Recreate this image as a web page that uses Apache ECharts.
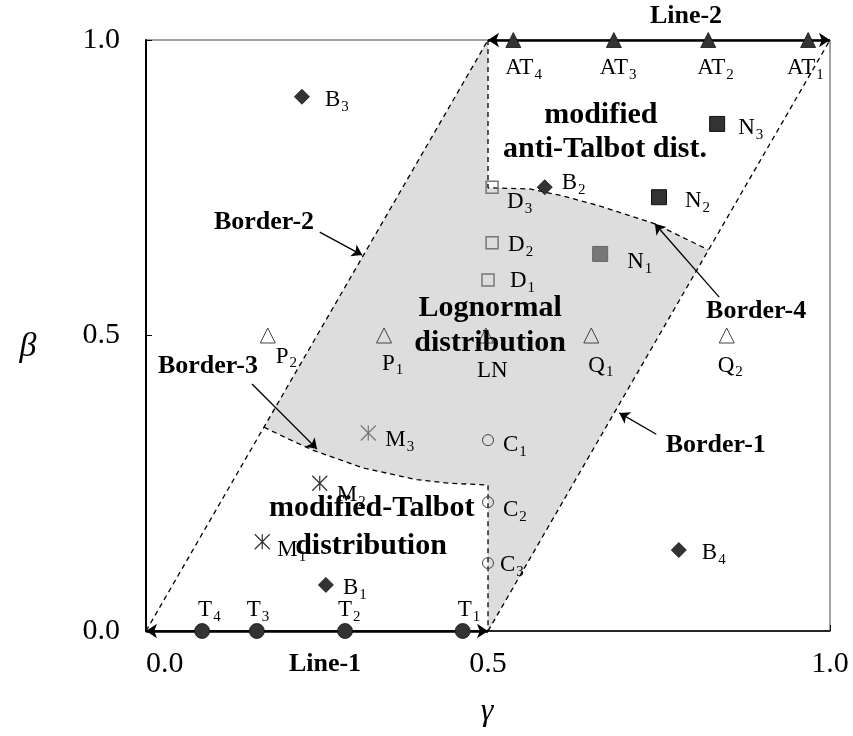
<!DOCTYPE html>
<html><head><meta charset="utf-8">
<script src="https://cdn.jsdelivr.net/npm/echarts@6/dist/echarts.min.js"></script>
<style>html,body{margin:0;padding:0;background:#fff}#c{width:853px;height:736px}</style>
</head><body><div id="c"></div>
<script>
// ---- data ----
const bNames = ['B1','B2','B3','B4'];
const bPoints = [[0.263,0.078],[0.583,0.751],[0.228,0.904],[0.779,0.137]];
const atNames = ['AT1','AT2','AT3','AT4'];
const atPoints = [[0.968,1],[0.822,1],[0.684,1],[0.537,1]];
const tNames = ['T1','T2','T3','T4'];
const tPoints = [[0.463,0],[0.291,0],[0.162,0],[0.082,0]];
const pqNames = ['P2','P1','LN','Q1','Q2'];
const pqPoints = [[0.178,0.5],[0.348,0.5],[0.497,0.5],[0.651,0.5],[0.849,0.5]];
const dNames = ['D1','D2','D3'];
const dPoints = [[0.5,0.594],[0.506,0.657],[0.506,0.751]];
const nDarkNames = ['N2','N3'];
const nDarkPoints = [[0.75,0.734],[0.835,0.858]];
const nGrayNames = ['N1'];
const nGrayPoints = [[0.664,0.638]];
const cNames = ['C1','C2','C3'];
const cPoints = [[0.5,0.323],[0.5,0.218],[0.5,0.115]];
const mDarkNames = ['M1','M2'];
const mDarkPoints = [[0.17,0.151],[0.254,0.25]];
const mGrayNames = ['M3'];
const mGrayPoints = [[0.325,0.335]];

const border1 = [[0.5,0],[1,1]];
const border2 = [[0,0],[0.5,1]];
const border4 = [[0.5,0.75],[0.561,0.748],[0.61,0.736],[0.664,0.719],[0.744,0.689],[0.822,0.645]];
const border3 = [[0.1725,0.345],[0.208,0.325],[0.244,0.306],[0.317,0.276],[0.396,0.256],[0.444,0.25],[0.5,0.247]];

const lineArrows = [[[0,0],[0.5,0]],[[0.5,1],[1,1]]];
const borderArrows = [
  [[0.746,0.333],[0.692,0.369]],
  [[0.254,0.675],[0.316,0.636]],
  [[0.155,0.418],[0.25,0.308]],
  [[0.838,0.565],[0.744,0.689]]
];
const borderLabels = [['Border-1',0.833,0.315],['Border-2',0.1725,0.692],['Border-3',0.0906,0.448],['Border-4',0.892,0.5415]];
const regionLabels = [
  ['modified',0.665,0.873],['anti-Talbot dist.',0.671,0.8156],
  ['Lognormal',0.503,0.5465],['distribution',0.503,0.487],
  ['modified-Talbot',0.33,0.208],['distribution',0.329,0.144]
];

// ---- layout of point labels (pixel offsets from marker centre) ----
const labelOffset = {
 B1:[17,3], B2:[17,-4], B3:[23,3], B4:[23,3],
 AT1:[-21,28], AT2:[-11,28], AT3:[-14,28], AT4:[-8,28],
 T1:[-5,-21], T2:[-7,-21], T3:[-10,-21], T4:[-4,-21],
 P2:[8,21], P1:[-2,28], LN:[-9,35], Q1:[-3,30], Q2:[-9,30],
 D1:[22,1], D2:[16,2], D3:[15,15],
 N1:[27,8], N2:[26,4], N3:[21,4],
 C1:[15,5], C2:[15,8], C3:[12,2],
 M1:[15,8], M2:[17,12], M3:[17,7]
};

const FF = '"Liberation Serif","Times New Roman",serif';
function fmt(name){
  const m = name.match(/^([A-Z]+)(\d*)$/);
  return m[2] ? '{m|'+m[1]+'}{s|'+m[2]+'}' : '{m|'+m[1]+'}';
}
const pointLabel = {
  show:true, position:'inside', align:'left', verticalAlign:'middle',
  formatter: p => fmt(p.name), color:'#000',
  rich:{
    m:{fontFamily:FF, fontSize:23, lineHeight:30, color:'#000'},
    s:{fontFamily:FF, fontSize:15, lineHeight:15, padding:[14,0,0,1], color:'#000'}
  }
};
function pointSeries(names, pts, symbol, size, itemStyle){
  return {
    type:'scatter', symbol:symbol, symbolSize:size, itemStyle:Object.assign({opacity:1}, itemStyle), z:6, clip:false,
    label:pointLabel, emphasis:{disabled:true},
    data: pts.map((p,i)=>({name:names[i], value:p, label:{offset:labelOffset[names[i]]}}))
  };
}
function dashed(data){
  return {type:'line', data:data, showSymbol:false, symbol:'none', clip:false, z:3,
    lineStyle:{color:'#000', width:1.3, type:[5,4]}, emphasis:{disabled:true}};
}
function textSeries(items, size){
  return {type:'scatter', symbolSize:0, clip:false, z:7, emphasis:{disabled:true},
    itemStyle:{opacity:1},
    label:{show:true, position:'inside', align:'center', verticalAlign:'middle',
      formatter:p=>p.name, color:'#000', fontFamily:FF, fontWeight:'bold', fontSize:size},
    data: items.map(t=>({name:t[0], value:[t[1],t[2]]}))};
}

const shadePoly = [[0.5,1]].concat(border4, [[0.5,0]], border3.slice().reverse());
const asterisk = 'path://M0,0L2,2M2,0L0,2M1,0L1,2';

const chart = echarts.init(document.getElementById('c'));
chart.setOption({
  animation:false,
  grid:{left:146, right:23, top:40, bottom:105, show:true, borderColor:'#444', borderWidth:1},
  xAxis:{type:'value', min:0, max:1, interval:0.5,
    axisLine:{lineStyle:{color:'#000', width:1.5}},
    axisTick:{inside:true, length:6, lineStyle:{color:'#000'}},
    splitLine:{show:false},
    axisLabel:{formatter:v=>v.toFixed(1), fontFamily:FF, fontSize:30, color:'#000', margin:18, alignMinLabel:'left'}},
  yAxis:{type:'value', min:0, max:1, interval:0.5,
    axisLine:{lineStyle:{color:'#000', width:2}},
    axisTick:{inside:true, length:6, lineStyle:{color:'#000'}},
    splitLine:{show:false},
    axisLabel:{formatter:v=>v.toFixed(1), fontFamily:FF, fontSize:30, color:'#000', margin:26}},
  graphic:[
    {type:'text', x:325, y:664, style:{text:'Line-1', font:'bold 26px '+FF, fill:'#000', align:'center', verticalAlign:'middle'}},
    {type:'text', x:686, y:16, style:{text:'Line-2', font:'bold 26px '+FF, fill:'#000', align:'center', verticalAlign:'middle'}},
    {type:'text', x:28, y:347, style:{text:'\u03B2', font:'italic 34px '+FF, fill:'#000', align:'center', verticalAlign:'middle'}},
    {type:'text', x:487, y:712, style:{text:'\u03B3', font:'italic 32px '+FF, fill:'#000', align:'center', verticalAlign:'middle'}}
  ],
  series:[
    {type:'custom', z:1, clip:false, data:[[0.5,0.5]], silent:true,
      renderItem:(params, api)=>{
        const pts = shadePoly.map(p=>api.coord(p));
        return {type:'polygon', shape:{points:pts}, style:{fill:'#dddddd'}};
      }},
    dashed(border1), dashed(border2),
    dashed([[0.5,1]].concat(border4)),
    dashed(border3.concat([[0.5,0]])),
    {type:'lines', coordinateSystem:'cartesian2d', z:4, clip:false, symbol:['arrow','arrow'], symbolSize:11,
      lineStyle:{color:'#000', width:2.5, opacity:1}, data: lineArrows.map(a=>({coords:a}))},
    {type:'lines', coordinateSystem:'cartesian2d', z:4, clip:false, symbol:['none','arrow'], symbolSize:10,
      lineStyle:{color:'#000', width:1.3, opacity:1}, data: borderArrows.map(a=>({coords:a}))},
    pointSeries(bNames, bPoints, 'diamond', 15, {color:'#333', borderColor:'#111', borderWidth:0.8}),
    pointSeries(atNames, atPoints, 'triangle', 15, {color:'#333', borderColor:'#111', borderWidth:0.8}),
    pointSeries(tNames, tPoints, 'circle', 15, {color:'#333', borderColor:'#111', borderWidth:0.8}),
    pointSeries(pqNames, pqPoints, 'triangle', 15, {color:'rgba(0,0,0,0)', borderColor:'#444', borderWidth:1}),
    pointSeries(dNames, dPoints, 'rect', 12, {color:'rgba(0,0,0,0)', borderColor:'#777', borderWidth:1.5}),
    pointSeries(nDarkNames, nDarkPoints, 'rect', 15, {color:'#333', borderColor:'#111', borderWidth:1}),
    pointSeries(nGrayNames, nGrayPoints, 'rect', 15, {color:'#777', borderColor:'#666', borderWidth:1}),
    pointSeries(cNames, cPoints, 'circle', 11, {color:'rgba(0,0,0,0)', borderColor:'#444', borderWidth:1}),
    pointSeries(mDarkNames, mDarkPoints, asterisk, 15, {color:'none', borderColor:'#333', borderWidth:1.2}),
    pointSeries(mGrayNames, mGrayPoints, asterisk, 15, {color:'none', borderColor:'#777', borderWidth:1.2}),
    textSeries(borderLabels, 26),
    textSeries(regionLabels, 30)
  ]
});
</script></body></html>
